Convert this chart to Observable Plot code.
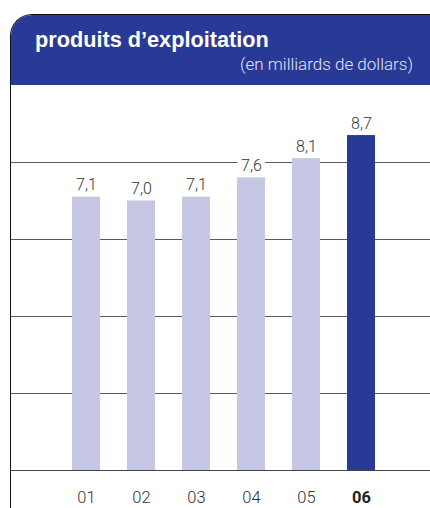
<!DOCTYPE html>
<html>
<head>
<meta charset="utf-8">
<script src="https://cdn.jsdelivr.net/npm/d3@7"></script>
<script src="https://cdn.jsdelivr.net/npm/@observablehq/plot@0.6"></script>
<style>
  html, body { margin: 0; padding: 0; background: #fff; }
  body { width: 430px; height: 508px; position: relative; overflow: hidden; font-family: Roboto, "Liberation Sans", sans-serif; }
  #panel { position: absolute; left: 10px; top: 14px; width: 440px; height: 520px;
           border-left: 1.5px solid #111; border-top: 1.5px solid #111; border-top-left-radius: 22px;
           overflow: hidden; box-sizing: border-box; }
  #band { position: absolute; left: 0; top: 0; width: 100%; height: 70px; background: #283a96; }
  #title { position: absolute; left: 35px; top: 29px; font-family: "Liberation Sans", Arial, sans-serif; font-size: 21.7px; line-height: 21px; font-weight: bold; color: #fff; white-space: nowrap; }
  #subtitle { position: absolute; right: 17px; top: 56px; font-size: 17px; line-height: 17px; font-weight: 300; color: #e3e4f2; white-space: nowrap; }
  #chart { position: absolute; left: 0; top: 85px; }
</style>
</head>
<body>
<div id="panel"><div id="band"></div></div>
<div id="title">produits d’exploitation</div>
<div id="subtitle">(en milliards de dollars)</div>
<div id="chart"></div>
<script>
const years = ["01", "02", "03", "04", "05", "06"];
const values = [7.1, 7.0, 7.1, 7.6, 8.1, 8.7];
const valueLabels = ["7,1", "7,0", "7,1", "7,6", "8,1", "8,7"];
const gridTicks = [2, 4, 6, 8];
const highlightYear = "06";

const lightColor = "#c6c7e4";
const darkColor = "#283a96";

const data = years.map((year, i) => ({year, value: values[i], label: valueLabels[i]}));

const chart = Plot.plot({
  width: 430,
  height: 423,
  marginTop: 0,
  marginBottom: 38,
  marginLeft: 11,
  marginRight: 0,
  x: {domain: years, range: [45, 402], padding: 0.49, axis: null},
  y: {domain: [0, 10], axis: null},
  style: {background: "transparent", fontFamily: "Roboto, 'Liberation Sans', sans-serif"},
  marks: [
    Plot.ruleY(gridTicks, {stroke: "#5a5a5a", strokeWidth: 1.2}),
    Plot.text(data, {x: "year", y: "value", text: "label", dy: -12, lineAnchor: "middle",
      fontSize: 16, fontWeight: 300, fill: "#333", stroke: "white", strokeWidth: 10}),
    Plot.barY(data, {x: "year", y: "value", fill: d => d.year === highlightYear ? darkColor : lightColor}),
    Plot.ruleY([0], {stroke: "#444", strokeWidth: 1.2}),
    Plot.text(years.filter(y => y !== highlightYear), {x: d => d, frameAnchor: "bottom", dy: 27,
      lineAnchor: "middle", fontSize: 16.5, fontWeight: 300, fill: "#333"}),
    Plot.text(years.filter(y => y === highlightYear), {x: d => d, frameAnchor: "bottom", dy: 27,
      lineAnchor: "middle", fontSize: 16.5, fontWeight: "bold", fill: "#222"})
  ]
});
document.getElementById("chart").appendChild(chart);
</script>
</body>
</html>
